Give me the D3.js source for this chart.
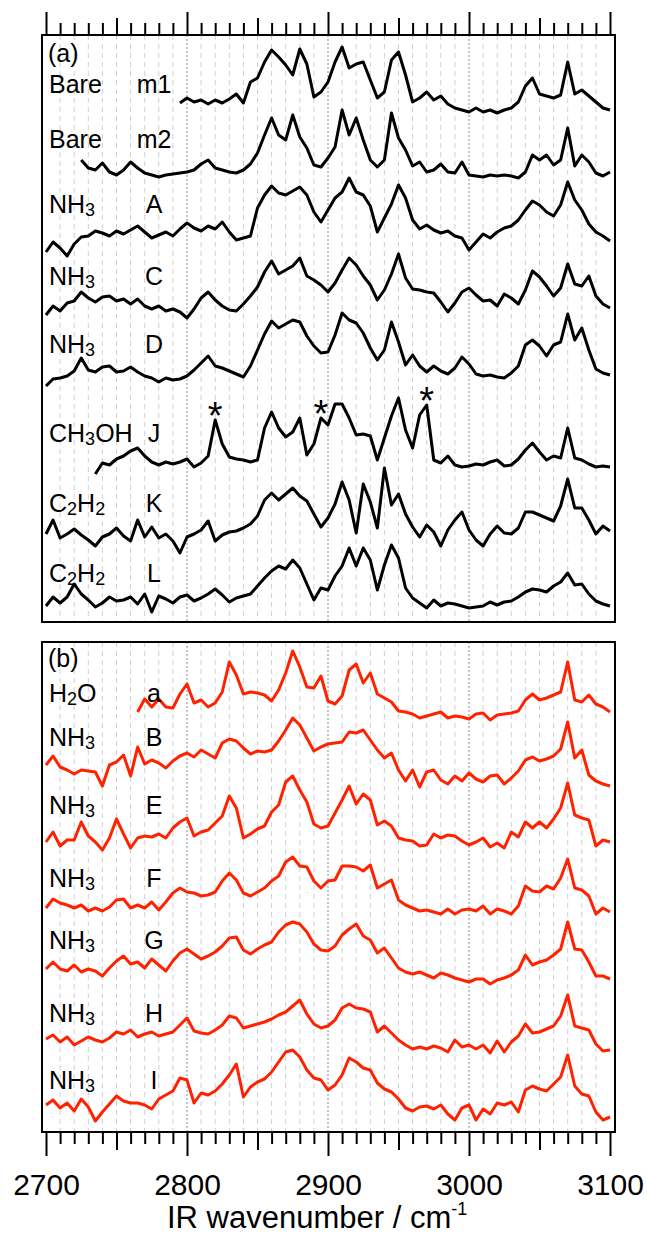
<!DOCTYPE html>
<html lang="en">
<head>
<meta charset="utf-8"/>
<title>IR spectra</title>
<script src="https://d3js.org/d3.v7.min.js"></script>
<style>
  body { margin: 0; background: #fff; }
  text { font-family: "Liberation Sans", Arial, sans-serif; fill: #000; }
</style>
</head>
<body>
<svg id="chart" width="647" height="1238"></svg>
<script>
// sampling grid of the spectra, cm-1
const wavenumbers = d3.range(2700, 3101, 5);

// panel (a) intensities, arbitrary units (null = not measured)
const bareM1 = [null, null, null, null, null, null, null, null, null, null, null, null, null, null, null, null, null, null, null,
  9, 14, 10, 12, 8, 12, 9, 13, 18, 9, 30, 34, 50, 62, 55, 47, 37, 63, 48, 15,
  20, 30, 50, 65, 44, 48, 50, 32, 14, 20, 52, 60, 37, 10, 14, 20, 12, 16, 8, 4,
  2, 0, 4, 0, 2, -1, 2, 4, 10, 26, 34, 18, 16, 14, 17, 50, 18, 22, 16, 10, 4, 2];
const bareM2 = [null, null, null, null, null,
  18, 10, 8, 15, 6, 3, 8, 16, 10, 5, 3, 1, 3, 4, 5, 6, 8, 14, 18, 10,
  8, 6, 5, 8, 14, 25, 43, 60, 43, 38, 63, 41, 30, 13, 11, 20, 31, 68, 43, 60,
  38, 18, 11, 18, 65, 40, 28, 12, 16, 6, 8, 14, 6, 5, 16, 3, 2, 1, 3, 2,
  3, 2, 0, 6, 23, 18, 23, 13, 18, 50, 12, 23, 16, 5, 2, 6];
const nh3A = [5, 15, 9, 1, 13, 20, 21, 26, 24, 21, 26, 23, 27, 31, 25, 19, 22, 25, 21, 28,
  34, 29, 26, 31, 28, 35, 25, 17, 19, 21, 49, 62, 71, 64, 62, 66, 70, 62, 45, 35,
  47, 59, 65, 79, 65, 62, 51, 25, 39, 53, 72, 59, 37, 28, 32, 27, 24, 26, 21, 19,
  7, 15, 23, 19, 25, 29, 31, 37, 47, 56, 52, 45, 41, 52, 75, 57, 47, 33, 25, 21, 16];
const nh3C = [3, 12, 7, 15, 17, 26, 20, 16, 21, 22, 17, 19, 14, 19, 12, 9, 12, 7, 9, 6,
  0, 9, 20, 26, 18, 12, 8, 7, 14, 22, 31, 46, 57, 44, 48, 52, 60, 42, 38, 33,
  26, 35, 48, 60, 53, 42, 33, 18, 28, 44, 64, 40, 29, 28, 26, 25, 16, 6, 15, 26,
  30, 23, 17, 18, 12, 24, 20, 14, 28, 47, 41, 32, 22, 30, 54, 34, 32, 42, 22, 14, 10];
const nh3D = [1, 8, 9, 11, 16, 29, 17, 15, 20, 21, 15, 16, 20, 15, 11, 9, 5, 9, 7, 8,
  11, 17, 24, 31, 21, 19, 16, 13, 10, 21, 37, 53, 66, 59, 63, 67, 65, 51, 41, 34,
  35, 52, 74, 67, 64, 54, 39, 27, 37, 65, 45, 22, 32, 21, 15, 21, 16, 13, 19, 30,
  23, 13, 11, 12, 10, 9, 14, 21, 42, 47, 41, 31, 42, 45, 73, 47, 59, 37, 18, 14, 12];
const ch3ohJ = [null, null, null, null, null, null, null,
  -4, 7, 5, 11, 14, 19, 22, 14, 8, 5, 8, 6, 8,
  11, 3, 7, 14, 50, 26, 13, 11, 10, 8, 10, 42, 58, 42, 33, 38, 52, 15, 26, 52,
  45, 66, 66, 52, 35, 36, 34, 10, 32, 54, 72, 40, 22, 55, 65, 10, 7, 14, 5, 3,
  4, 6, 5, 8, 10, 4, 5, 11, 20, 27, 18, 10, 14, 12, 42, 12, 10, 6, 3, 4, 3];
const c2h2K = [14, 28, 10, 14, 19, 13, 8, 2, 11, 14, 20, 12, 7, 28, 11, 21, 10, 14, 7, -5,
  11, 14, 18, 27, 7, 13, 16, 17, 20, 24, 32, 48, 55, 48, 54, 60, 52, 47, 34, 21,
  30, 44, 66, 48, 15, 64, 46, 20, 80, 43, 54, 34, 21, 11, 23, 16, 2, 18, 28, 36,
  18, 8, 2, 14, 22, 15, 14, 20, 36, 36, 33, 30, 27, 42, 69, 40, 40, 28, 14, 22, 17];
const c2h2L = [6, 15, 9, 15, 28, 18, 12, 5, 9, 15, 11, 12, 15, 8, 18, 0, 16, 13, 9, 15,
  17, 11, 14, 18, 23, 17, 10, 14, 16, 18, 26, 34, 41, 46, 43, 52, 44, 28, 12, 24,
  22, 36, 46, 64, 46, 64, 52, 22, 47, 67, 54, 24, 14, 9, 4, 12, 6, 9, 8, 6,
  4, 5, 6, 10, 7, 10, 11, 15, 20, 23, 22, 20, 26, 30, 39, 27, 28, 18, 11, 8, 6];

// panel (b)
const h2oA = [null, null, null, null, null, null, null, null, null, null, null, null, null,
  10, 23, 15, 23, 15, 14, 28,
  38, 19, 22, 15, 19, 30, 60, 47, 28, 30, 29, 27, 21, 32, 49, 71, 55, 35, 34, 46,
  21, 18, 26, 52, 58, 39, 49, 28, 24, 20, 11, 10, 8, 4, 6, 8, 10, 4, 6, 5,
  3, 8, 9, 2, 7, 8, 9, 11, 22, 28, 22, 24, 27, 30, 60, 22, 20, 27, 18, 15, 10];
const nh3B = [24, 33, 22, 19, 15, 19, 18, 17, 3, 24, 27, 34, 13, 42, 25, 29, 26, 21, 28, 33,
  36, 32, 39, 35, 31, 46, 50, 48, 41, 35, 38, 37, 39, 48, 59, 71, 64, 51, 38, 42,
  45, 46, 47, 57, 56, 59, 49, 39, 31, 36, 19, 8, 19, 2, 17, 19, 9, 5, 13, 8,
  16, 10, 7, 13, 14, 5, 11, 18, 29, 32, 28, 30, 33, 40, 67, 31, 39, 14, 8, 5, 3];
const nh3E = [17, 27, 13, 19, 19, 37, 23, 17, 9, 21, 40, 25, 11, 21, 23, 22, 25, 21, 31, 37,
  41, 23, 27, 29, 36, 43, 63, 51, 21, 25, 30, 33, 47, 54, 77, 83, 69, 57, 35, 31,
  33, 46, 59, 73, 55, 65, 59, 34, 38, 33, 21, 19, 18, 13, 14, 25, 21, 24, 23, 18,
  14, 17, 21, 12, 16, 11, 27, 22, 37, 31, 37, 31, 40, 51, 76, 44, 41, 39, 13, 19, 17];
const nh3F = [7, 16, 12, 10, 7, 10, 4, 7, 4, 8, 15, 16, 7, 10, 7, 13, 5, 13, 22, 27,
  23, 22, 19, 20, 23, 34, 42, 35, 22, 19, 23, 27, 34, 39, 53, 58, 49, 48, 34, 27,
  34, 35, 49, 49, 48, 44, 50, 27, 31, 35, 15, 10, 7, 4, 5, 3, 1, 6, 1, 5,
  6, 4, 9, 1, 6, 4, 1, 9, 29, 24, 23, 29, 26, 37, 56, 27, 25, 19, 1, 7, 3];
const nh3G = [15, 22, 15, 13, 19, 12, 15, 13, 8, 16, 23, 28, 20, 22, 16, 25, 19, 13, 23, 31,
  35, 30, 25, 28, 32, 38, 46, 47, 34, 30, 35, 39, 42, 52, 59, 62, 60, 52, 40, 34,
  33, 38, 49, 55, 60, 48, 44, 31, 36, 26, 16, 12, 10, 12, 9, 6, 11, 9, 6, 4,
  2, 5, 5, 0, 4, 6, 9, 14, 29, 19, 22, 24, 29, 35, 62, 35, 34, 22, 8, 8, 5];
const nh3H = [15, 19, 12, 17, 9, 13, 17, 14, 12, 16, 22, 20, 24, 17, 20, 22, 18, 20, 22, 29,
  36, 23, 21, 20, 24, 29, 38, 36, 26, 28, 30, 32, 35, 39, 42, 48, 54, 40, 30, 26,
  28, 34, 46, 50, 46, 45, 42, 22, 28, 21, 14, 9, 5, 7, 5, 8, 6, 2, 14, 7,
  9, 5, 9, 1, 13, 2, 12, 18, 30, 21, 22, 25, 28, 38, 59, 28, 26, 24, 10, 3, 4];
const nh3I = [17, 22, 14, 19, 11, 23, 15, 1, 10, 18, 26, 21, 19, 19, 17, 13, 23, 27, 31, 44,
  42, 19, 29, 27, 31, 38, 47, 58, 25, 35, 40, 43, 50, 60, 70, 72, 65, 52, 44, 42,
  32, 37, 47, 64, 60, 54, 52, 39, 33, 30, 23, 14, 11, 15, 16, 13, 17, 8, 2, 14,
  17, 2, 13, 8, 19, 17, 20, 10, 32, 36, 33, 31, 38, 45, 67, 36, 28, 26, 10, 2, 5];

// peaks marked with * in trace J
const starPeaks = [2820, 2895, 2970];

const majorTicks = [2700, 2800, 2900, 3000, 3100];
const midTicks = [2750, 2850, 2950, 3050];
const minorTicks = d3.range(2710, 3100, 10).filter(v => v % 50 !== 0);

// label = molecule parts ([text, subscript?]) + sample tag
const seriesA = [
  {mol: [["Bare"]], tag: "m1", values: bareM1, offset: 510, labelY: 93},
  {mol: [["Bare"]], tag: "m2", values: bareM2, offset: 444, labelY: 148},
  {mol: [["NH"], ["3", 1]], tag: "A", values: nh3A, offset: 365, labelY: 213},
  {mol: [["NH"], ["3", 1]], tag: "C", values: nh3C, offset: 304, labelY: 285},
  {mol: [["NH"], ["3", 1]], tag: "D", values: nh3D, offset: 235, labelY: 353},
  {mol: [["CH"], ["3", 1], ["OH"]], tag: "J", values: ch3ohJ, offset: 152, labelY: 442, stars: true},
  {mol: [["C"], ["2", 1], ["H"], ["2", 1]], tag: "K", values: c2h2K, offset: 74, labelY: 512},
  {mol: [["C"], ["2", 1], ["H"], ["2", 1]], tag: "L", values: c2h2L, offset: 10, labelY: 582}
];
const seriesB = [
  {mol: [["H"], ["2", 1], ["O"]], tag: "a", values: h2oA, offset: 410, labelY: 702},
  {mol: [["NH"], ["3", 1]], tag: "B", values: nh3B, offset: 343, labelY: 746},
  {mol: [["NH"], ["3", 1]], tag: "E", values: nh3E, offset: 273, labelY: 814},
  {mol: [["NH"], ["3", 1]], tag: "F", values: nh3F, offset: 217, labelY: 887},
  {mol: [["NH"], ["3", 1]], tag: "G", values: nh3G, offset: 148, labelY: 949},
  {mol: [["NH"], ["3", 1]], tag: "H", values: nh3H, offset: 78, labelY: 1022},
  {mol: [["NH"], ["3", 1]], tag: "I", values: nh3I, offset: 10, labelY: 1089}
];

const svg = d3.select("#chart");
const x = d3.scaleLinear().domain([2700, 3100]).range([46, 610]);
const frameLeft = 42, frameRight = 615;
const labelSize = 25;

const panels = [
  {name: "(a)", top: 35, bottom: 622, span: 587, color: "#000", series: seriesA, nameY: 62},
  {name: "(b)", top: 642, bottom: 1132, span: 490, color: "#ff2200", series: seriesB, nameY: 667}
];

panels.forEach(p => {
  const y = d3.scaleLinear().domain([0, p.span]).range([p.bottom, p.top]);
  const g = svg.append("g");

  // dashed vertical grid every 10 cm-1
  const grid = d3.range(2710, 3100, 10);
  g.selectAll("line.grid").data(grid).join("line")
    .attr("class", "grid")
    .attr("x1", d => x(d)).attr("x2", d => x(d))
    .attr("y1", p.top).attr("y2", p.bottom)
    .attr("stroke", d => d % 100 === 0 ? "#8c8c8c" : "#cfcfcf")
    .attr("stroke-width", 1)
    .attr("stroke-dasharray", d => d % 100 === 0 ? "2,2" : "5,4");

  const line = d3.line()
    .defined(d => d[1] != null)
    .x(d => x(d[0]));

  p.series.forEach(s => {
    const pts = wavenumbers.map((w, i) => [w, s.values[i]]);
    g.append("path")
      .datum(pts)
      .attr("fill", "none")
      .attr("stroke", p.color)
      .attr("stroke-width", 3)
      .attr("stroke-linejoin", "round")
      .attr("d", line.y(d => y(s.offset + d[1])));

    // molecule label with subscripts
    const t = g.append("text").attr("x", 49).attr("y", s.labelY).attr("font-size", labelSize);
    s.mol.forEach(([txt, sub], k) => {
      const prevSub = k > 0 && s.mol[k - 1][1];
      t.append("tspan")
        .attr("font-size", sub ? 18 : labelSize)
        .attr("dy", sub ? 3 : (prevSub ? -3 : 0))
        .text(txt);
    });
    g.append("text").attr("x", 154).attr("y", s.labelY)
      .attr("text-anchor", "middle").attr("font-size", labelSize).text(s.tag);

    if (s.stars) {
      starPeaks.forEach(w => {
        const v = s.values[wavenumbers.indexOf(w)];
        g.append("text").attr("x", x(w)).attr("y", y(s.offset + v) + 9)
          .attr("text-anchor", "middle").attr("font-size", 38).text("*");
      });
    }
  });

  g.append("text").attr("x", 48).attr("y", p.nameY).attr("font-size", labelSize).text(p.name);

  g.append("rect")
    .attr("x", frameLeft).attr("y", p.top)
    .attr("width", frameRight - frameLeft).attr("height", p.bottom - p.top)
    .attr("fill", "none").attr("stroke", "#000").attr("stroke-width", 2);
});

// tick rows: top of (a) and bottom of (b)
function tickRow(axisFn, ypos, values, size) {
  const a = svg.append("g")
    .attr("transform", `translate(0,${ypos})`)
    .call(axisFn(x).tickValues(values).tickSize(size).tickFormat(""));
  a.select(".domain").remove();
  a.selectAll(".tick line").attr("stroke", "#000").attr("stroke-width", 2);
  return a;
}
tickRow(d3.axisTop, 35, minorTicks, 12);
tickRow(d3.axisTop, 35, midTicks, 17);
tickRow(d3.axisTop, 35, majorTicks, 23);
tickRow(d3.axisBottom, 1132, minorTicks, 12);
tickRow(d3.axisBottom, 1132, midTicks, 18);
const bottomMajor = tickRow(d3.axisBottom, 1132, majorTicks, 24);

bottomMajor.selectAll(".tick").append("text")
  .attr("y", 63)
  .attr("text-anchor", "middle")
  .attr("font-size", 30)
  .text(d => d);

const title = svg.append("text")
  .attr("x", 167).attr("y", 1228)
  .attr("font-size", 31)
  .text("IR wavenumber / cm");
title.append("tspan").attr("font-size", 18).attr("dy", -13).text("-1");
</script>
</body>
</html>
